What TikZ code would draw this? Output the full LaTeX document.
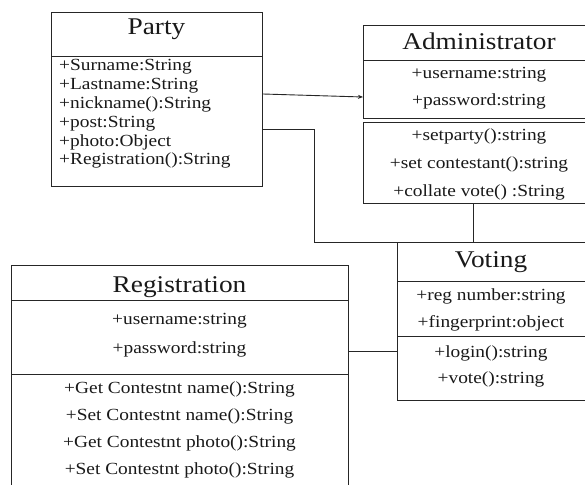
\documentclass[tikz,border=0pt]{standalone}
\usepackage{fontspec}
\setmainfont[FakeStretch=1.14]{Liberation Serif}
\usetikzlibrary{arrows.meta,calc}
\tikzset{
  box/.style={draw=black!85, line width=0.9pt, anchor=north west, inner sep=0pt, minimum width=#1},
  box/.default=200pt,
  sep/.style={draw=black!85, line width=0.9pt},
  conn/.style={draw=black!85, line width=0.9pt},
  ttl/.style={font=\fontsize{24}{28}\selectfont, text=black!90, inner sep=0pt, anchor=base},
  itm/.style={font=\fontsize{17}{20}\selectfont, text=black!90, inner sep=0pt, anchor=base},
  itml/.style={itm, anchor=base west}
}
\begin{document}
\begin{tikzpicture}[x=1pt,y=-1pt]
\useasboundingbox (0,0) rectangle (585,484);
\clip (0,0) rectangle (585,484);
\fill[white] (0,0) rectangle (585,484);

% Party
\node[box=211pt, minimum height=174pt] (party) at (51,12) {};
\draw[sep] ($(party.north west)+(0,44)$) -- ($(party.north east)+(0,44)$);
\node[ttl] (partyT) at (156.5,35) {Party};
\node[itml] (pa1) at (59,71) {+Surname:String};
\node[itml] (pa2) at (59,90) {+Lastname:String};
\node[itml] (pa3) at (59,108) {+nickname():String};
\node[itml] (pa4) at (59,127) {+post:String};
\node[itml] (pa5) at (59,146) {+photo:Object};
\node[itml] (pa6) at (59,164) {+Registration():String};

% Administrator
\node[box=240pt, minimum height=93pt] (admin) at (363,25) {};
\draw[sep] ($(admin.north west)+(0,35)$) -- ($(admin.north east)+(0,35)$);
\node[box=240pt, minimum height=81pt] (adminops) at (363,122) {};
\node[ttl] (adminT) at (479,50) {Administrator};
\node[itm] (ad1) at (479,79) {+username:string};
\node[itm] (ad2) at (479,106) {+password:string};
\node[itm] (ad3) at (479,140) {+setparty():string};
\node[itm] (ad4) at (479,168) {+set contestant():string};
\node[itm] (ad5) at (479,196) {+collate vote() :String};

% Voting
\node[box=200pt, minimum height=158pt] (voting) at (397,242) {};
\draw[sep] ($(voting.north west)+(0,39)$) -- ($(voting.north east)+(0,39)$);
\draw[sep] ($(voting.north west)+(0,94)$) -- ($(voting.north east)+(0,94)$);
\node[ttl] (votT) at (491,267) {Voting};
\node[itm] (vo1) at (491,300) {+reg number:string};
\node[itm] (vo2) at (491,327) {+fingerprint:object};
\node[itm] (vo3) at (491,357) {+login():string};
\node[itm] (vo4) at (491,383) {+vote():string};

% Registration
\node[box=337pt, minimum height=240pt] (reg) at (11,265) {};
\draw[sep] ($(reg.north west)+(0,35)$) -- ($(reg.north east)+(0,35)$);
\draw[sep] ($(reg.north west)+(0,109)$) -- ($(reg.north east)+(0,109)$);
\node[ttl] (regT) at (179.5,292) {Registration};
\node[itm] (re1) at (179.5,324) {+username:string};
\node[itm] (re2) at (179.5,353) {+password:string};
\node[itm] (re3) at (179.5,393) {+Get Contestnt name():String};
\node[itm] (re4) at (179.5,420) {+Set Contestnt name():String};
\node[itm] (re5) at (179.5,447) {+Get Contestnt photo():String};
\node[itm] (re6) at (179.5,474) {+Set Contestnt photo():String};

% connectors
\coordinate (pA) at ($(party.north east)+(0,82)$);
\coordinate (aA) at ($(admin.north west)+(0,72)$);
\draw[conn, -{Stealth[length=5pt,width=4pt]}] (pA) -- (aA);

\coordinate (pV) at ($(party.north east)+(0,117)$);
\draw[conn] (pV) -- ++(52,0) |- (voting.north west);

\coordinate (aV) at ($(adminops.south west)+(110,0)$);
\draw[conn] (aV) -- (aV |- voting.north);

\coordinate (rV) at ($(reg.north east)+(0,86)$);
\draw[conn] (rV) -- (rV -| voting.west);
\end{tikzpicture}
\end{document}
